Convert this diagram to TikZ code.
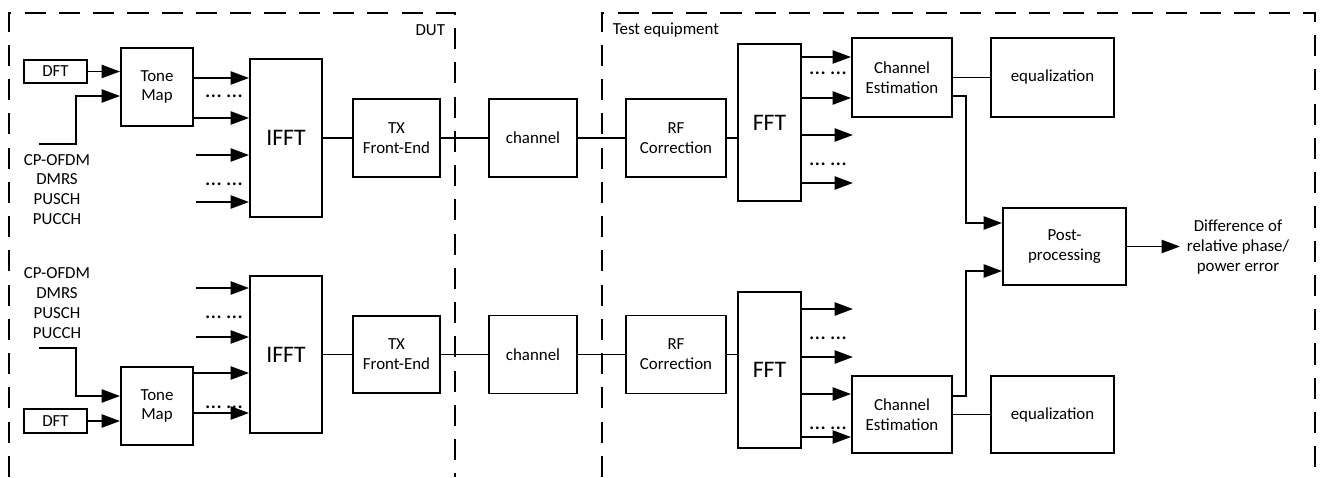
\documentclass[tikz,border=0pt]{standalone}
\usepackage{fontspec}
\setmainfont{Carlito}
\usetikzlibrary{arrows.meta,calc}
\begin{document}
\begin{tikzpicture}[x=0.02cm,y=-0.02cm, line width=1.1pt,
  box/.style={draw, line width=1.1pt, inner sep=0pt, align=center, font=\fontsize{9.6}{11.3}\selectfont},
  sz/.style 2 args={minimum width=#1*0.02cm, minimum height=#2*0.02cm},
  big/.style={font=\fontsize{13.5}{16}\selectfont},
  arr/.style={-{Triangle[length=10.5pt,width=7.5pt]}},
  lbl/.style={align=center, font=\fontsize{9.6}{11.3}\selectfont, inner sep=0pt},
  dotsl/.style={font=\fontsize{13}{15}\selectfont, inner sep=0pt},
  frame/.style={line width=1.1pt, dash pattern=on 12pt off 7.5pt}]
\useasboundingbox[fill=white] (0,0) rectangle (1321,477);

% frames
\draw[frame] (9,477) -- (9,13) -- (455,13) -- (455,477);
\draw[frame] (602,477) -- (602,13) -- (1315,13) -- (1315,477);
\node[lbl, anchor=east] (dut) at (446,30) {DUT};
\node[lbl, anchor=west] (te) at (612,30) {Test equipment};

% ---------- upper chain ----------
\node[box, sz={63}{23}] (dft1) at (55.5,71.5) {DFT};
\node[box, sz={72}{78}] (tm1) at (157,87) {Tone\\Map};
\node[box, big, sz={72}{158}] (ifft1) at (286,138) {IFFT};
\node[box, sz={87}{78}] (tx1) at (396.5,138) {TX\\Front-End};
\node[box, sz={88}{78}] (ch1) at (533,138) {channel};
\node[box, sz={100}{78}] (rf1) at (676,138) {RF\\Correction};
\node[box, big, sz={63}{157}] (fft1) at (769.5,122.5) {FFT};
\node[box, sz={100}{79}] (ce1) at (902,77.5) {Channel\\Estimation};
\node[box, sz={123}{79}] (eq1) at (1052.5,77.5) {equalization};
\node[lbl] (in1txt) at (57,189.5) {CP-OFDM\\DMRS\\PUSCH\\PUCCH};
\coordinate (in1) at (39,144);

\draw[arr] (dft1.east) -- (dft1.east -| tm1.west);
\draw[arr] (in1) -- ++(37,0) |- ($(tm1.west)+(0,9)$);
\draw[arr] (tm1.east |- 0,78) -- (ifft1.west |- 0,78);
\draw[arr] (tm1.east |- 0,118) -- (ifft1.west |- 0,118);
\coordinate (f1a) at (196,155);
\coordinate (f1b) at (196,202);
\draw[arr] (f1a) -- (f1a -| ifft1.west);
\draw[arr] (f1b) -- (f1b -| ifft1.west);
\node[dotsl] (d1) at (224,96) {… …};
\node[dotsl] (d2) at (224,184) {… …};
\draw (ifft1.east) -- (tx1.west);
\draw (tx1.east) -- (ch1.west);
\draw (ch1.east) -- (rf1.west);
\draw (rf1.east) -- (rf1.east -| fft1.west);
\draw[arr] (fft1.east |- 0,57) -- (ce1.west |- 0,57);
\draw[arr] (fft1.east |- 0,98) -- (ce1.west |- 0,98);
\coordinate (o1a) at (853,135);
\coordinate (o1b) at (853,183);
\draw[arr] (o1a -| fft1.east) -- (o1a);
\draw[arr] (o1b -| fft1.east) -- (o1b);
\node[dotsl] (d3) at (828,73) {… …};
\node[dotsl] (d4) at (828,164) {… …};
\draw (ce1.east) -- (eq1.west);

% ---------- lower chain ----------
\node[box, sz={63}{24}] (dft2) at (55.5,421) {DFT};
\node[box, sz={72}{78}] (tm2) at (157,406) {Tone\\Map};
\node[box, big, sz={72}{157}] (ifft2) at (286,354.5) {IFFT};
\node[box, sz={87}{77}] (tx2) at (396.5,354.5) {TX\\Front-End};
\node[box, sz={88}{78}] (ch2) at (533,354.5) {channel};
\node[box, sz={100}{78}] (rf2) at (676,354.5) {RF\\Correction};
\node[box, big, sz={63}{156}] (fft2) at (769.5,370) {FFT};
\node[box, sz={100}{77}] (ce2) at (902,414.5) {Channel\\Estimation};
\node[box, sz={123}{77}] (eq2) at (1052.5,414.5) {equalization};
\node[lbl] (in2txt) at (57,303) {CP-OFDM\\DMRS\\PUSCH\\PUCCH};
\coordinate (in2) at (39,348);

\draw[arr] (dft2.east) -- (dft2.east -| tm2.west);
\draw[arr] (in2) -- ++(37,0) |- ($(tm2.west)+(0,-10)$);
\coordinate (f2a) at (196,288);
\coordinate (f2b) at (196,337);
\draw[arr] (f2a) -- (f2a -| ifft2.west);
\draw[arr] (f2b) -- (f2b -| ifft2.west);
\draw[arr] (tm2.east |- 0,373) -- (ifft2.west |- 0,373);
\draw[arr] (tm2.east |- 0,413) -- (ifft2.west |- 0,413);
\node[dotsl] (d5) at (224,317) {… …};
\node[dotsl] (d6) at (224,407) {… …};
\draw (ifft2.east) -- (tx2.west);
\draw (tx2.east) -- (ch2.west);
\draw (ch2.east) -- (rf2.west);
\draw (rf2.east) -- (rf2.east -| fft2.west);
\coordinate (o2a) at (853,309);
\coordinate (o2b) at (853,357);
\draw[arr] (o2a -| fft2.east) -- (o2a);
\draw[arr] (o2b -| fft2.east) -- (o2b);
\draw[arr] (fft2.east |- 0,394) -- (ce2.west |- 0,394);
\draw[arr] (fft2.east |- 0,437) -- (ce2.west |- 0,437);
\node[dotsl] (d7) at (828,338) {… …};
\node[dotsl] (d8) at (828,428) {… …};
\draw (ce2.east) -- (eq2.west);

% ---------- post processing ----------
\node[box, sz={123}{77}] (post) at (1064.5,246.5) {Post-\\processing};
\node[lbl] (out) at (1238,247) {Difference of\\relative phase/\\power error};
\coordinate (outend) at (1180,246.5);
\draw[arr] ($(ce1.east)+(0,18.5)$) -| ($(post.west)+(-36,-23.5)$) -- ($(post.west)+(0,-23.5)$);
\draw[arr] ($(ce2.east)+(0,-18.5)$) -| ($(post.west)+(-36,24.5)$) -- ($(post.west)+(0,24.5)$);
\draw[arr] (post.east) -- (outend);
\end{tikzpicture}
\end{document}
